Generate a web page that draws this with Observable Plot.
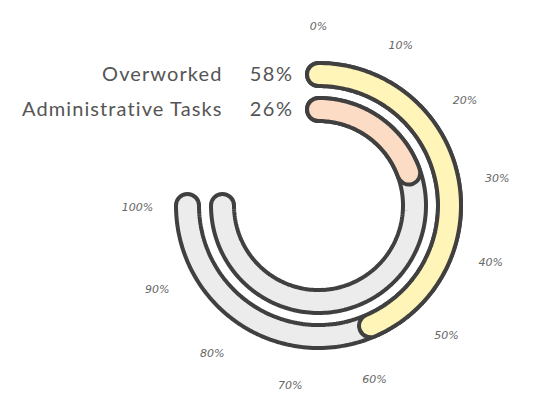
<!DOCTYPE html>
<html>
<head>
<meta charset="utf-8">
<script src="https://cdn.jsdelivr.net/npm/d3@7"></script>
<script src="https://cdn.jsdelivr.net/npm/@observablehq/plot@0.6"></script>
<style>
  html, body { margin: 0; padding: 0; background: #fff; }
</style>
</head>
<body>
<div id="chart"></div>
<script>
// Data
const categories = ["Overworked", "Administrative Tasks"];
const values = [58, 26];
const fills = ["#fff5b8", "#fddcc6"];
const tickValues = [0, 10, 20, 30, 40, 50, 60, 70, 80, 90, 100];
const tickLabels = tickValues.map(v => v + "%");

// Geometry (layout constants)
const radii = [131, 96];
const sweep = 270; // degrees for 100%
const labelRadius = 181;

function arcPoints(r, from, to, key) {
  const pts = [];
  const steps = Math.max(2, Math.ceil((to - from) * 2));
  for (let i = 0; i <= steps; i++) {
    const p = from + (to - from) * i / steps;
    const a = p / 100 * sweep * Math.PI / 180;
    pts.push({x: r * Math.sin(a), y: r * Math.cos(a), key});
  }
  return pts;
}

const tracks = categories.flatMap((c, i) => arcPoints(radii[i], 0, 100, c));
const bars = categories.flatMap((c, i) => arcPoints(radii[i], 0, values[i], c));
const ticks = tickValues.map((v, i) => {
  const a = v / 100 * sweep * Math.PI / 180;
  return {x: labelRadius * Math.sin(a), y: labelRadius * Math.cos(a) - 1.5, label: tickLabels[i]};
});
const labels = categories.map((c, i) => ({name: c, pct: values[i] + "%", y: radii[i]}));

const color = d3.scaleOrdinal(categories, fills);

const plot = Plot.plot({
  width: 548,
  height: 415,
  margin: 0,
  x: {domain: [-318, 230], axis: null},
  y: {domain: [-210, 205], axis: null},
  style: {background: "#fff"},
  marks: [
    Plot.line(tracks, {x: "x", y: "y", z: "key", stroke: "#404040", strokeWidth: 27, strokeLinecap: "round", strokeLinejoin: "round"}),
    Plot.line(tracks, {x: "x", y: "y", z: "key", stroke: "#ececec", strokeWidth: 19, strokeLinecap: "round", strokeLinejoin: "round"}),
    Plot.line(bars, {x: "x", y: "y", z: "key", stroke: "#404040", strokeWidth: 27, strokeLinecap: "round", strokeLinejoin: "round"}),
    Plot.line(bars, {x: "x", y: "y", z: "key", stroke: d => color(d.key), strokeWidth: 19, strokeLinecap: "round", strokeLinejoin: "round"}),
    Plot.text(ticks, {x: "x", y: "y", text: "label", fontSize: 11, fontStyle: "italic", fontWeight: 300, fill: "#666", fontFamily: "'DejaVu Sans', sans-serif"}),
    Plot.text(labels, {x: -96, y: "y", text: "name", textAnchor: "end", fontSize: 20, fill: "#555", fontFamily: "Lato, sans-serif"}),
    Plot.text(labels, {x: -25, y: "y", text: "pct", textAnchor: "end", fontSize: 20, fill: "#555", fontFamily: "Lato, sans-serif"})
  ]
});
const textGroups = d3.select(plot).selectAll('g[aria-label="text"]').nodes();
if (textGroups.length >= 3) {
  d3.select(textGroups[1]).attr("letter-spacing", "1.1px");
  d3.select(textGroups[2]).attr("letter-spacing", "1.5px");
}
document.getElementById("chart").appendChild(plot);
</script>
</body>
</html>
